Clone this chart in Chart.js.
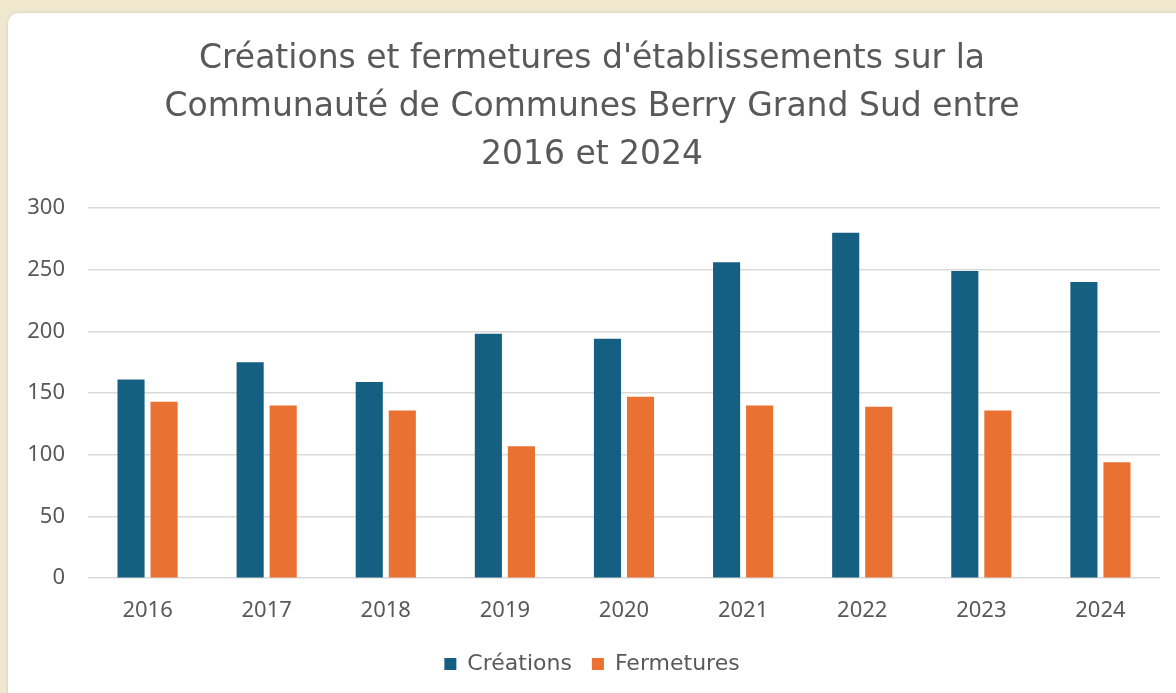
<!DOCTYPE html>
<html>
<head>
<meta charset="utf-8">
<script src="https://cdn.jsdelivr.net/npm/chart.js@4/dist/chart.umd.min.js"></script>
<style>
  body { margin: 0; background: #efe8cf; width: 1176px; height: 693px; overflow: hidden; }
  .card {
    position: absolute; left: 8px; top: 13px; width: 1180px; height: 700px;
    background: #fff; border-radius: 10px; box-shadow: 0 0 3px rgba(0,0,0,0.15);
  }
  canvas { position: absolute; left: 0; top: 0; }
</style>
</head>
<body>
<div class="card"><canvas id="chart" width="1168" height="680"></canvas></div>
<script>
// Données
const annees = ["2016", "2017", "2018", "2019", "2020", "2021", "2022", "2023", "2024"];
const creations = [161, 175, 159, 198, 194, 256, 280, 249, 240];
const fermetures = [143, 140, 136, 107, 147, 140, 139, 136, 94];
const titre = [
    "Créations et fermetures d'établissements sur la",
    "Communauté de Communes Berry Grand Sud entre",
    "2016 et 2024"
];

const gris = '#595959';
const police = '"DejaVu Sans", "Noto Sans", sans-serif';
const policeAxes = '"Noto Sans", "DejaVu Sans", sans-serif';

new Chart(document.getElementById('chart').getContext('2d'), {
    type: 'bar',
    data: {
        labels: annees,
        datasets: [{
            label: 'Créations',
            data: creations,
            backgroundColor: '#156082',
            categoryPercentage: 0.555,
            barPercentage: 0.82
        }, {
            label: 'Fermetures',
            data: fermetures,
            backgroundColor: '#e97132',
            categoryPercentage: 0.555,
            barPercentage: 0.82
        }]
    },
    options: {
        responsive: false,
        animation: false,
        layout: { padding: { left: 16, right: 16, top: 22, bottom: 8 } },
        plugins: {
            title: {
                display: true,
                text: titre,
                color: gris,
                font: { family: police, size: 33, weight: 'normal', lineHeight: '48px' },
                padding: { top: 0, bottom: 29 }
            },
            legend: {
                position: 'bottom',
                labels: {
                    color: gris,
                    font: { family: police, size: 22 },
                    boxWidth: 12,
                    boxHeight: 12,
                    padding: 20
                }
            },
            tooltip: { enabled: false }
        },
        scales: {
            x: {
                grid: { display: false },
                border: { display: false },
                ticks: { color: gris, font: { family: policeAxes, size: 22 }, padding: 11 },
                afterFit: (scale) => { scale.height -= 1.6; }
            },
            y: {
                min: 0,
                max: 300,
                ticks: { stepSize: 50, color: gris, font: { family: policeAxes, size: 22 }, padding: 23 },
                grid: { color: '#d9d9d9', lineWidth: 1.5, drawTicks: false },
                border: { display: false },
                afterFit: (scale) => { scale.width = 64; }
            }
        }
    }
});
</script>
</body>
</html>
